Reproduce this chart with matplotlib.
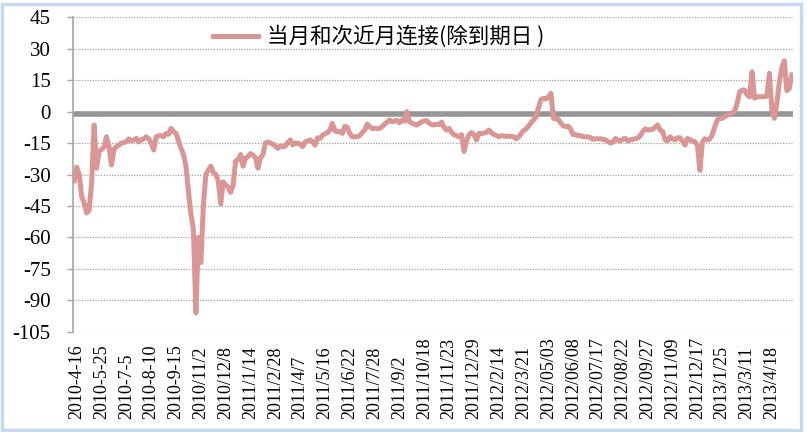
import matplotlib
matplotlib.use("Agg")
import matplotlib.pyplot as plt
from matplotlib.patches import Rectangle

# ---------------- data ----------------
date_labels = ["2010-4-16", "2010-5-25", "2010-7-5", "2010-8-10", "2010-9-15",
               "2010/11/2", "2010/12/8", "2011/1/14", "2011/2/28", "2011/4/7",
               "2011/5/16", "2011/6/22", "2011/7/28", "2011/9/2", "2011/10/18",
               "2011/11/23", "2011/12/29", "2012/2/14", "2012/3/21", "2012/05/03",
               "2012/06/08", "2012/07/17", "2012/08/22", "2012/09/27", "2012/11/09",
               "2012/12/17", "2013/1/25", "2013/3/11", "2013/4/18"]

spread = [
    -33, -26.5, -30, -40.6, -43.5, -48.4, -47, -34, -6.4, -27,
    -19, -18, -17, -12, -16.5, -25.5, -18, -16.7, -16, -15,
    -14.8, -14.3, -13, -14, -13.5, -12.8, -14.5, -13.5, -13, -12,
    -13, -15, -18.3, -12, -11.5, -11.5, -12, -10.4, -10.8, -8,
    -9.6, -10.4, -14, -17.5, -20.5, -26, -38, -49, -56, -96,
    -60, -72, -45, -30, -28, -26, -29, -30, -33, -44,
    -33.5, -35, -36, -38.5, -35, -23.5, -23, -20.5, -26, -22,
    -21.5, -20, -20.7, -22, -27, -22, -20.5, -15, -14.5, -15,
    -15.5, -16.4, -17.5, -16.5, -16.7, -16.5, -14.8, -13.5, -15.9, -15,
    -15.1, -15.5, -16.7, -14.5, -14, -13.5, -14.3, -16, -12.5, -12.8,
    -11.2, -10.6, -10, -8.8, -5.6, -9.2, -9.6, -9.5, -10.4, -7,
    -7.5, -10.5, -12, -12, -12, -11.5, -10, -8.8, -6, -7.2,
    -8, -8, -8, -8, -7.2, -6, -5, -4, -4.8, -4.5,
    -4.2, -5.3, -4, -4.6, 0, -4.8, -5.5, -6, -6.4, -5.6,
    -4.8, -4.5, -4.3, -5.6, -6.2, -6.4, -6, -6.2, -5, -7.5,
    -8.8, -8, -10, -11, -11.5, -12, -11, -19, -14, -11,
    -10, -11, -13.5, -10.4, -10.5, -10.2, -10, -8.8, -10, -11,
    -11.3, -12, -11.5, -11.6, -11.8, -11.8, -11.8, -12, -13, -12,
    -10.5, -9, -8.3, -6.8, -5.3, -4, -2.5, 2, 5.8, 6.3,
    6, 7, 8.7, -3.2, -3.5, -3.7, -5.5, -6.8, -7.2, -7,
    -8.5, -11, -11, -11.5, -11.5, -12, -12, -12, -12.5, -13.2,
    -13, -13, -13, -13.2, -13.5, -14.3, -15, -14.5, -12.8, -13.8,
    -14, -13, -12.8, -14, -13.5, -13.2, -13, -12.5, -11.5, -9.5,
    -8.2, -8.8, -8.6, -8.5, -7.4, -6.4, -8.8, -9.5, -13.5, -14,
    -12, -13, -13.5, -12.5, -12.5, -14, -16, -12.8, -13.5, -14,
    -14.3, -16, -28, -14.5, -13, -13.5, -13, -11, -7.2, -4,
    -3.2, -3.2, -2.4, -1.8, -1.2, -0.6, 0, 4, 9.3, 10.3,
    10.3, 8, 7, 19, 6.5, 7, 7.1, 7.1, 7.1, 7.5,
    18.3, 0.8, -3.2, 4, 14, 21, 24.2, 10, 11.1, 17.5,
]
label_start = 1
label_step = 10
baseline_value = -1.3
y_ticks = [45, 30, 15, 0, -15, -30, -45, -60, -75, -90, -105]
series_name = "当月和次近月连接(除到期日 )"

# ---------------- figure ----------------
W, H, DPI = 807, 432, 100
fig = plt.figure(figsize=(W / DPI, H / DPI), dpi=DPI)
fig.patch.set_facecolor("white")

ax = fig.add_axes([73 / W, 1 - 331.7 / H, 720 / W, (331.7 - 17.3) / H])
n = len(spread)
xs = list(range(n))

ax.set_xlim(-0.5, n - 0.5)
ax.set_ylim(-105, 45)

# grid
for yv in y_ticks:
    ax.axhline(yv, color="#A0A0A0", lw=0.9, ls=(0, (1, 1.2)), zorder=1)

# baseline band
ax.axhline(baseline_value, color="#969696", lw=4.0, zorder=2)

line, = ax.plot(xs, spread, color="#D99694", lw=3.6, solid_joinstyle="round",
                zorder=3, label=series_name)

# axes styling
for s in ["top", "right", "bottom"]:
    ax.spines[s].set_visible(False)
ax.spines["left"].set_color("#A6A6A6")
ax.spines["left"].set_linewidth(1.2)

serif = "Liberation Serif"
ax.set_yticks(y_ticks)
ax.set_yticklabels([str(v) for v in y_ticks], fontfamily=serif, fontsize=15)
ax.tick_params(axis="y", direction="out", length=4, width=1, color="#A6A6A6", pad=12)

tick_pos = [label_start + k * label_step for k in range(len(date_labels))]
ax.set_xticks(tick_pos)
ax.set_xticklabels(date_labels, rotation=90, fontfamily=serif, fontsize=13,
                   va="bottom", ha="center")
ax.tick_params(axis="x", length=0, pad=63)

# legend
fig.legend(handles=[line], labels=[series_name], loc="center left",
           bbox_to_anchor=(213 / W, 1 - 37 / H), frameon=False,
           borderpad=0, borderaxespad=0, handlelength=2.1, handletextpad=0.4,
           prop={"family": ["Noto Sans CJK SC", "DejaVu Sans"], "size": 15.5})

# outer light-blue frame
fig.patches.append(Rectangle((2 / W, 2 / H), 799 / W, 426 / H, transform=fig.transFigure,
                             fill=False, edgecolor="#C6D9F1", lw=2.5))

fig.savefig("out.png", dpi=DPI)
